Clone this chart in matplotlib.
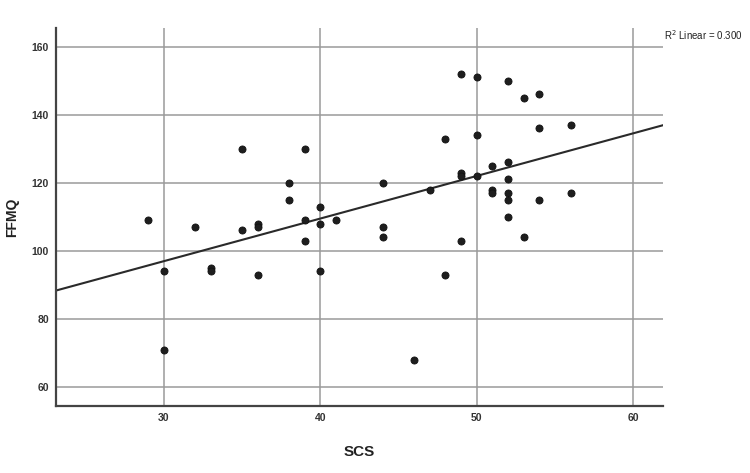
import numpy as np
import matplotlib
matplotlib.use('Agg')
import matplotlib.pyplot as plt

plt.rcParams['font.family'] = ['Liberation Sans', 'DejaVu Sans']

# Dados (SCS x FFMQ)
scs = [29, 30, 30, 32, 33, 33, 35, 35, 36, 36, 36, 38, 38, 39, 39, 39,
       40, 40, 40, 41, 44, 44, 44, 46, 47, 48, 48, 49, 49, 49, 49,
       50, 50, 50, 51, 51, 51, 52, 52, 52, 52, 52, 52, 53, 53,
       54, 54, 54, 56, 56]
ffmq = [109, 94, 71, 107, 95, 94, 130, 106, 108, 107, 93, 120, 115, 130, 109, 103,
        113, 108, 94, 109, 120, 107, 104, 68, 118, 133, 93, 152, 123, 122, 103,
        151, 134, 122, 125, 118, 117, 150, 126, 121, 117, 115, 110, 145, 104,
        146, 136, 115, 137, 117]

x_ticks = [30, 40, 50, 60]
y_ticks = [60, 80, 100, 120, 140, 160]
x_lim = (23.1, 61.9)
y_lim = (54.4, 165.5)

x = np.array(scs, dtype=float)
y = np.array(ffmq, dtype=float)
# reta de regressão linear
slope, intercept = np.polyfit(x, y, 1)

fig = plt.figure(figsize=(7.5, 4.73), dpi=100)
ax = fig.add_axes([0.0747, 0.1416, 0.809, 0.7992])

ax.set_xlim(*x_lim)
ax.set_ylim(*y_lim)
ax.set_xticks(x_ticks)
ax.set_yticks(y_ticks)
ax.grid(True, color='#9a9a9a', linewidth=1.1)
ax.set_axisbelow(True)

xs = np.array(x_lim)
ax.plot(xs, intercept + slope * xs, color='#2a2a2a', linewidth=1.5, zorder=2)
ax.scatter(x, y, s=26, color='#1e1e1e', edgecolor='#111111', linewidth=0.6, zorder=3)

for side in ['top', 'right']:
    ax.spines[side].set_visible(False)
for side in ['left', 'bottom']:
    ax.spines[side].set_color('#444444')
    ax.spines[side].set_linewidth(1.6)

ax.tick_params(length=0, pad=5, labelsize=7.5, colors='#333333')
for lab in ax.get_xticklabels() + ax.get_yticklabels():
    lab.set_fontweight('bold')

ax.set_xlabel('SCS', fontsize=11, fontweight='bold', color='#222222')
ax.set_ylabel('FFMQ', fontsize=10, fontweight='bold', color='#222222')
ax.xaxis.set_label_coords(0.5, -0.103)
ax.yaxis.set_label_coords(-0.061, 0.5)

fig.text(0.886, 0.925, 'R$^2$ Linear = %.3f' % 0.300, fontsize=7, color='#222222',
         ha='left', va='center')

fig.savefig('out.png', dpi=100)
